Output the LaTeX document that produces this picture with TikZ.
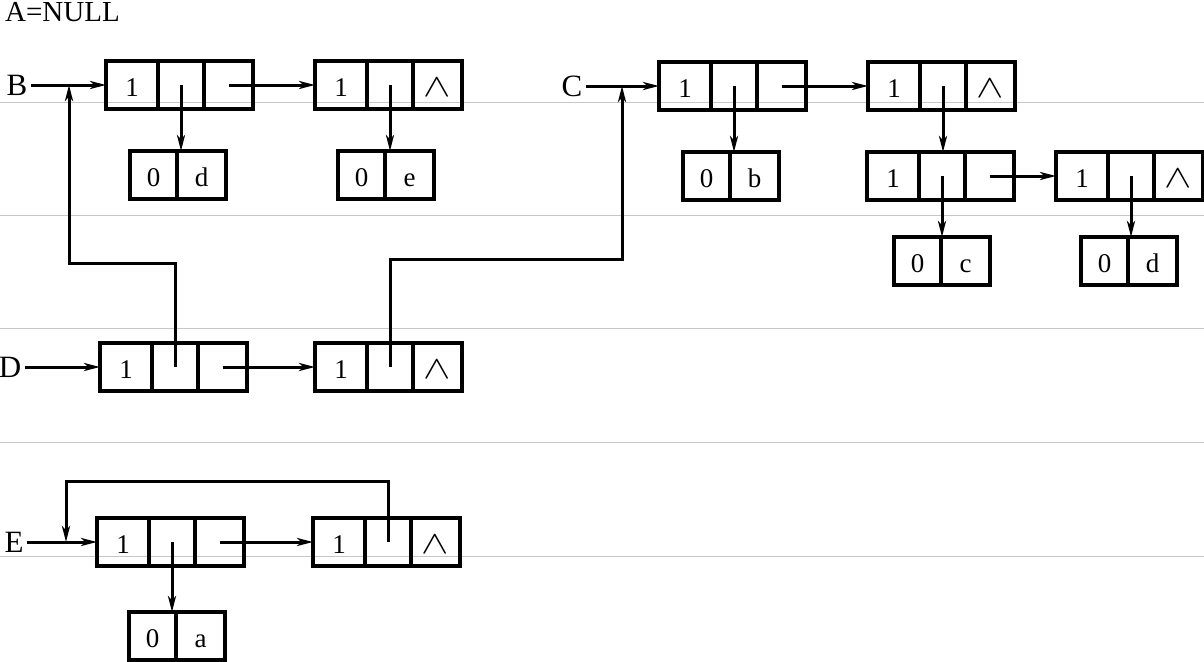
\documentclass[tikz,border=0pt]{standalone}
\usepackage{fontspec}
\setmainfont{Liberation Serif}
\usetikzlibrary{arrows.meta}
\newcommand{\nilmark}{\scalebox{1.65}[1.3]{$\wedge$}}
\newcommand{\recnode}[5]{%
  \node[cell,minimum width=52pt,anchor=north west] (#1a) at (#2,#3) {#4};
  \node[cell,minimum width=46pt,anchor=north west] (#1b) at (#1a.north east) {};
  \node[cell,minimum width=49pt,anchor=north west] (#1c) at (#1b.north east) {#5};
}
\newcommand{\atomnode}[4]{%
  \node[cell,minimum width=47pt,anchor=north west] (#1a) at (#2,#3) {0};
  \node[cell,minimum width=49pt,anchor=north west] (#1b) at (#1a.north east) {#4};
}
\tikzset{
  cell/.style={draw, rectangle, line width=3.2pt, minimum height=48pt, inner sep=0pt,
    outer sep=0pt, text height=23pt, text depth=0pt, font=\fontsize{27}{27}\selectfont},
  lbl/.style={font=\fontsize{31}{31}\selectfont},
  ptr/.style={line width=3pt, -{Stealth[length=16pt,width=8pt,inset=4.5pt]}},
  scan/.style={draw=black!22, line width=1pt}
}
\begin{document}
\begin{tikzpicture}[x=1pt,y=-1pt]
\useasboundingbox (0,0) rectangle (1204,661);
% faint scan lines
\foreach \yy in {102,215,328,442,556} \draw[scan] (0,\yy) -- (1204,\yy);

\node[anchor=base west,inner sep=0pt,font=\fontsize{29}{29}\selectfont] (anull) at (5,21.5) {A=NULL};

% B list
\node[lbl] (b) at (17,85) {B};
\recnode{b1}{106}{61}{1}{}
\recnode{b2}{315}{61}{1}{\nilmark}
\atomnode{bd}{130}{151}{d}
\atomnode{be}{338}{151}{e}
\draw[ptr] (b.east) -- (b1a.west);
\draw[ptr] (b1c.center) -- (b2a.west);
\draw[ptr] (b1b.center) -- (b1b.center |- bda.north);
\draw[ptr] (b2b.center) -- (b2b.center |- bea.north);

% C list
\node[lbl] (c) at (572,86) {C};
\recnode{c1}{659}{62}{1}{}
\recnode{c2}{868}{62}{1}{\nilmark}
\atomnode{cb}{683}{152}{b}
\recnode{c3}{867}{152}{1}{}
\recnode{c4}{1056}{152}{1}{\nilmark}
\atomnode{cc}{894}{237}{c}
\atomnode{cd}{1081}{237}{d}
\draw[ptr] (c.east) -- (c1a.west);
\draw[ptr] (c1c.center) -- (c2a.west);
\draw[ptr] (c1b.center) -- (c1b.center |- cba.north);
\draw[ptr] (c2b.center) -- (c2b.center |- c3a.north);
\draw[ptr] (c3c.center) -- (c4a.west);
\draw[ptr] (c3b.center) -- (c3b.center |- cca.north);
\draw[ptr] (c4b.center) -- (c4b.center |- cda.north);

% D list
\node[lbl] (d) at (10,367) {D};
\recnode{d1}{100}{343}{1}{}
\recnode{d2}{315}{343}{1}{\nilmark}
\draw[ptr] (d.east) -- (d1a.west);
\draw[ptr] (d1c.center) -- (d2a.west);
\coordinate (bj) at (69,85);
\coordinate (cj) at (622,86);
\draw[ptr] (d1b.center) -- ++(0,-104) -| (bj);
\draw[ptr] (d2b.center) -- ++(0,-108) -| (cj);

% E list
\node[lbl] (e) at (14,542) {E};
\recnode{e1}{97}{518}{1}{}
\recnode{e2}{313}{518}{1}{\nilmark}
\atomnode{ea}{129}{612}{a}
\draw[ptr] (e.east) -- (e1a.west);
\draw[ptr] (e1c.center) -- (e2a.west);
\draw[ptr] (e1b.center) -- (e1b.center |- eaa.north);
\coordinate (ej) at (66,542);
\draw[ptr] (e2b.center) -- ++(0,-61) -| (ej);
\end{tikzpicture}
\end{document}
